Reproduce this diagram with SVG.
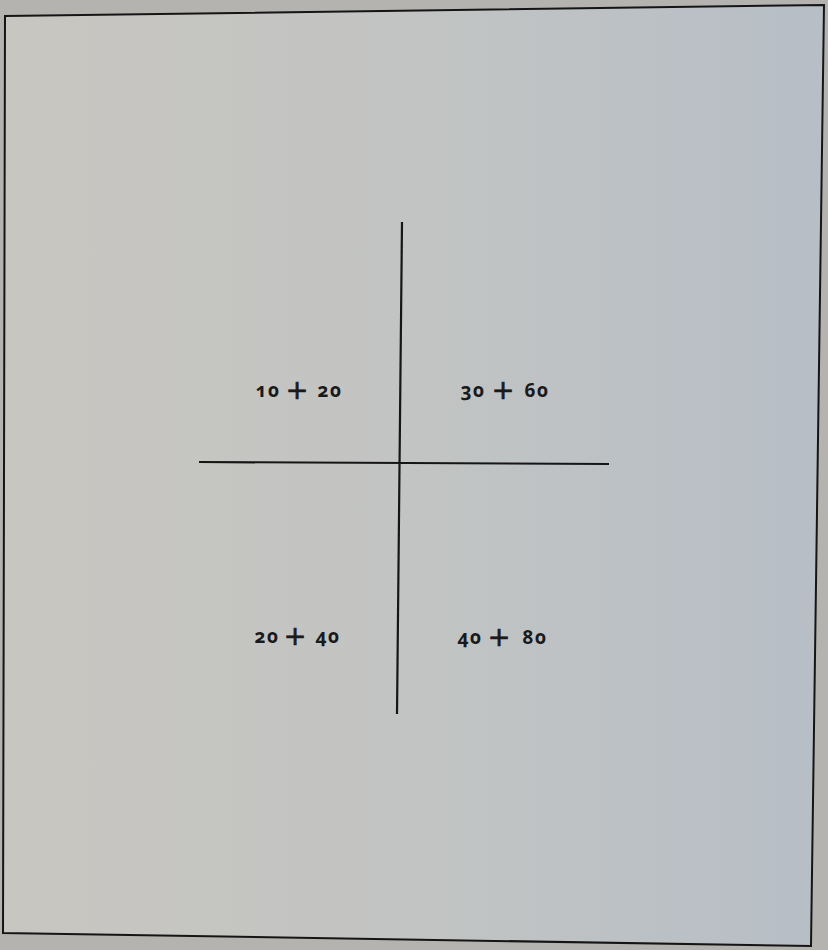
<svg xmlns="http://www.w3.org/2000/svg" width="828" height="950" viewBox="0 0 828 950">
<defs>
<linearGradient id="bg" x1="0" y1="0" x2="1" y2="0">
<stop offset="0" stop-color="#c8c6c1"/>
<stop offset="0.5" stop-color="#c2c4c3"/>
<stop offset="1" stop-color="#b7bec6"/>
</linearGradient>
</defs>
<style>
.num{font-family:"Noto Sans","Open Sans",sans-serif;font-size:19px;font-weight:bold;fill:#1a1a1a;font-variant-numeric:oldstyle-nums;font-feature-settings:"onum" 1;text-anchor:middle;letter-spacing:1.5px}
.pl{font-family:"DejaVu Sans",sans-serif;font-size:27px;fill:#1a1a1a;stroke:#1a1a1a;stroke-width:0.7px;text-anchor:middle}
.ln{stroke:#151515;fill:none}
</style>
<rect x="0" y="0" width="828" height="950" fill="#b4b3af"/>
<polygon points="5,16 824,5 811,946 3,933" fill="url(#bg)"/>
<g id="frame">
<polygon class="ln" stroke-width="2" points="5,16 824,5 811,946 3,933"/>
</g>
<g id="connectors">
<line class="ln" stroke-width="2.2" x1="402" y1="222" x2="397" y2="714"/>
<line class="ln" stroke-width="2.2" x1="199" y1="462" x2="609" y2="464"/>
</g>
<g id="q1"><text class="num" x="268" y="397">10</text><text class="pl" x="297" y="399">+</text><text class="num" x="330" y="397">20</text></g>
<g id="q2"><text class="num" x="473" y="397">30</text><text class="pl" x="503" y="399">+</text><text class="num" x="537" y="397">60</text></g>
<g id="q3"><text class="num" x="267" y="643">20</text><text class="pl" x="295" y="645">+</text><text class="num" x="328" y="643">40</text></g>
<g id="q4"><text class="num" x="470" y="644">40</text><text class="pl" x="499" y="646">+</text><text class="num" x="535" y="644">80</text></g>
</svg>
